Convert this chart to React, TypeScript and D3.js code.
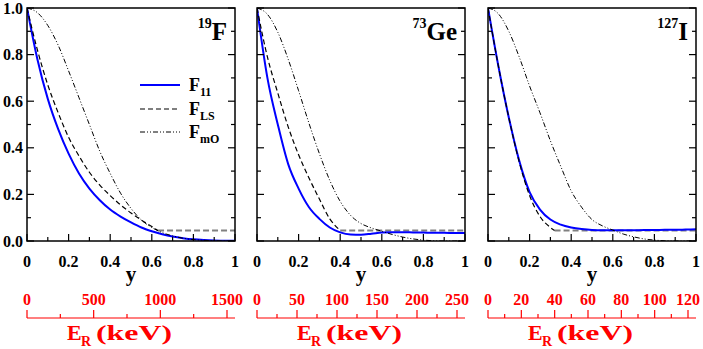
import React from 'react';
import * as d3 from 'd3';

// y grid shared by the full curves
const uGrid = [0, 0.05, 0.1, 0.15, 0.2, 0.25, 0.3, 0.35, 0.4, 0.45, 0.5, 0.55, 0.6, 0.65, 0.7, 0.75, 0.8, 0.85, 0.9, 0.95, 1];

// 19F
const f11F = [1, 0.78, 0.61, 0.48, 0.375, 0.29, 0.225, 0.175, 0.135, 0.105, 0.08, 0.058, 0.042, 0.029, 0.019, 0.012, 0.007, 0.004, 0.002, 0.001, 0.001];
const lsUF = [0, 0.05, 0.1, 0.15, 0.2, 0.25, 0.3, 0.35, 0.4, 0.45, 0.5, 0.55, 0.6, 0.63];
const lsF = [1, 0.82, 0.67, 0.55, 0.445, 0.365, 0.295, 0.24, 0.195, 0.155, 0.12, 0.09, 0.062, 0.045];
const mOF = [1, 0.98, 0.925, 0.84, 0.73, 0.615, 0.5, 0.385, 0.29, 0.205, 0.14, 0.09, 0.058, 0.036, 0.022, 0.012, 0.006, 0.003, 0.001, 0, 0];

// 73Ge
const f11Ge = [1, 0.7, 0.5, 0.33, 0.225, 0.145, 0.095, 0.058, 0.037, 0.028, 0.027, 0.031, 0.036, 0.038, 0.038, 0.037, 0.036, 0.035, 0.035, 0.034, 0.034];
const lsUGe = [0, 0.05, 0.1, 0.15, 0.2, 0.25, 0.3, 0.35, 0.4];
const lsGe = [1, 0.79, 0.635, 0.49, 0.37, 0.27, 0.18, 0.095, 0.045];
const mOGe = [1, 0.973, 0.896, 0.78, 0.645, 0.505, 0.375, 0.26, 0.17, 0.11, 0.075, 0.056, 0.042, 0.028, 0.017, 0.009, 0.004, 0.001, 0, 0, 0];

// 127I
const f11I = [1, 0.75, 0.53, 0.345, 0.21, 0.135, 0.092, 0.07, 0.058, 0.051, 0.047, 0.046, 0.046, 0.046, 0.046, 0.047, 0.047, 0.048, 0.048, 0.049, 0.05];
const lsUI = [0, 0.05, 0.1, 0.15, 0.2, 0.25, 0.3, 0.32];
const lsI = [1, 0.75, 0.53, 0.34, 0.195, 0.105, 0.058, 0.045];
const mOI = [1, 0.975, 0.9, 0.79, 0.665, 0.55, 0.43, 0.32, 0.215, 0.145, 0.092, 0.065, 0.047, 0.03, 0.018, 0.009, 0.004, 0.001, 0, 0, 0];

const floorValue = 0.045;

const yTicks = [0, 0.2, 0.4, 0.6, 0.8, 1];
const yTickLabels = ['0.0', '0.2', '0.4', '0.6', '0.8', '1.0'];
const yMinor = [0.1, 0.3, 0.5, 0.7, 0.9];
const xTicks = [0, 0.2, 0.4, 0.6, 0.8, 1];
const xTickLabels = ['0', '0.2', '0.4', '0.6', '0.8', '1'];
const xMinor = [0.1, 0.3, 0.5, 0.7, 0.9];

const erMaxF = 1560;
const erTicksF = [0, 500, 1000, 1500];
const erMinorF = [250, 750, 1250];
const erMaxGe = 260;
const erTicksGe = [0, 50, 100, 150, 200, 250];
const erMinorGe = [25, 75, 125, 175, 225];
const erMaxI = 124.8;
const erTicksI = [0, 20, 40, 60, 80, 100, 120];
const erMinorI = [10, 30, 50, 70, 90, 110];

const panels = [
  { mass: '19', sym: 'F', left: 27, f11: f11F, lsU: lsUF, ls: lsF, mO: mOF, erMax: erMaxF, erTicks: erTicksF, erMinor: erMinorF },
  { mass: '73', sym: 'Ge', left: 257, f11: f11Ge, lsU: lsUGe, ls: lsGe, mO: mOGe, erMax: erMaxGe, erTicks: erTicksGe, erMinor: erMinorGe },
  { mass: '127', sym: 'I', left: 488, f11: f11I, lsU: lsUI, ls: lsI, mO: mOI, erMax: erMaxI, erTicks: erTicksI, erMinor: erMinorI },
];

const W = 208;
const TOP = 8;
const BOTTOM = 241;
const FONT = "'Liberation Serif', 'Times New Roman', Times, 'DejaVu Serif', serif";
const RED = '#ff0000';
const BLUE = '#0000ff';

const Panel = ({ p, first }: { p: any; first: boolean }) => {
  const x = d3.scaleLinear().domain([0, 1]).range([p.left, p.left + W]);
  const y = d3.scaleLinear().domain([0, 1]).range([BOTTOM, TOP]);
  const er = d3.scaleLinear().domain([0, p.erMax]).range([p.left, p.left + W]);
  const line = d3.line<[number, number]>().x(d => x(d[0])).y(d => y(d[1])).curve(d3.curveMonotoneX);
  const blue = line(uGrid.map((u, i) => [u, p.f11[i]]));
  const ls = line(p.lsU.map((u: number, i: number) => [u, p.ls[i]]));
  const mO = line(uGrid.map((u, i) => [u, p.mO[i]]));
  const cut = p.lsU[p.lsU.length - 1];
  const axisY = 318;
  const clipId = 'clip' + p.sym;
  return (
    <g>
      <clipPath id={clipId}>
        <rect x={p.left} y={TOP} width={W} height={BOTTOM - TOP} />
      </clipPath>
      <g clipPath={`url(#${clipId})`}>
        <line x1={x(cut)} x2={x(1)} y1={y(floorValue)} y2={y(floorValue)} stroke="#808080" strokeWidth={2} strokeDasharray="6,3" />
        <path d={blue || ''} fill="none" stroke={BLUE} strokeWidth={2} />
        <path d={ls || ''} fill="none" stroke="#000" strokeWidth={1.2} strokeDasharray="5,3" />
        <path d={mO || ''} fill="none" stroke="#000" strokeWidth={1} strokeDasharray="5,2,1,2,1,2" />
      </g>
      {/* ticks */}
      {yTicks.map(t => (
        <g key={'y' + t}>
          <line x1={x(0)} x2={x(0) + 7} y1={y(t)} y2={y(t)} stroke="#000" strokeWidth={1.2} />
          <line x1={x(1)} x2={x(1) - 7} y1={y(t)} y2={y(t)} stroke="#000" strokeWidth={1.2} />
        </g>
      ))}
      {yMinor.map(t => (
        <g key={'ym' + t}>
          <line x1={x(0)} x2={x(0) + 4} y1={y(t)} y2={y(t)} stroke="#000" strokeWidth={1.2} />
          <line x1={x(1)} x2={x(1) - 4} y1={y(t)} y2={y(t)} stroke="#000" strokeWidth={1.2} />
        </g>
      ))}
      {xTicks.map(t => (
        <line key={'x' + t} x1={x(t)} x2={x(t)} y1={BOTTOM} y2={BOTTOM - 7} stroke="#000" strokeWidth={1.2} />
      ))}
      {xMinor.map(t => (
        <line key={'xm' + t} x1={x(t)} x2={x(t)} y1={BOTTOM} y2={BOTTOM - 4} stroke="#000" strokeWidth={1.2} />
      ))}
      <rect x={p.left} y={TOP} width={W} height={BOTTOM - TOP} fill="none" stroke="#000" strokeWidth={1.5} />
      {/* tick labels */}
      {xTickLabels.map((lab, i) => (
        <text key={'xl' + lab} x={x(xTicks[i])} y={266.5} textAnchor="middle" fontSize={16} fontWeight="bold" fontFamily={FONT}>{lab}</text>
      ))}
      {first && yTickLabels.map((lab, i) => (
        <text key={'yl' + lab} x={p.left - 4} y={y(yTicks[i]) + 5.5} textAnchor="end" fontSize={16} fontWeight="bold" fontFamily={FONT}>{lab}</text>
      ))}
      <text x={x(0.5)} y={281} textAnchor="middle" fontSize={21} fontWeight="bold" fontFamily={FONT}>y</text>
      {/* nucleus label */}
      <text x={p.left + W - 8} y={40} textAnchor="end" fontWeight="bold" fontFamily={FONT}>
        <tspan fontSize={14} dy={-12}>{p.mass}</tspan>
        <tspan fontSize={25} dy={12}>{p.sym}</tspan>
      </text>
      {/* recoil energy axis */}
      <line x1={p.left} x2={p.left + W} y1={axisY} y2={axisY} stroke={RED} strokeWidth={1.2} />
      {p.erTicks.map((t: number) => (
        <g key={'e' + t}>
          <line x1={er(t)} x2={er(t)} y1={axisY} y2={axisY - 8} stroke={RED} strokeWidth={1.2} />
          <text x={er(t)} y={305} textAnchor="middle" fontSize={16} fontWeight="bold" fontFamily={FONT} fill={RED}>{t}</text>
        </g>
      ))}
      {p.erMinor.map((t: number) => (
        <line key={'em' + t} x1={er(t)} x2={er(t)} y1={axisY} y2={axisY - 4} stroke={RED} strokeWidth={1.2} />
      ))}
      <text x={p.left + 40} y={340} fontWeight="bold" fontFamily={FONT} fill={RED} fontSize={22}>E</text>
      <text x={p.left + 54} y={346} fontWeight="bold" fontFamily={FONT} fill={RED} fontSize={14}>R</text>
      <text x={p.left + 69} y={340} fontWeight="bold" fontFamily={FONT} fill={RED} fontSize={22}
        textLength={76} lengthAdjust="spacingAndGlyphs">(keV)</text>
    </g>
  );
};

const Legend = () => {
  const rows = [
    { sub: '11', stroke: BLUE, width: 2, dash: undefined, y: 85 },
    { sub: 'LS', stroke: '#000', width: 1.2, dash: '5,3', y: 109 },
    { sub: 'mO', stroke: '#000', width: 1, dash: '5,2,1,2,1,2', y: 132 },
  ];
  return (
    <g>
      {rows.map(r => (
        <g key={r.sub}>
          <line x1={140} x2={180} y1={r.y} y2={r.y} stroke={r.stroke} strokeWidth={r.width} strokeDasharray={r.dash} />
          <text x={189} y={r.y + 6} fontWeight="bold" fontFamily={FONT}>
            <tspan fontSize={18}>F</tspan>
            <tspan fontSize={12} dy={5}>{r.sub}</tspan>
          </text>
        </g>
      ))}
    </g>
  );
};

export default function App() {
  return (
    <svg width={703} height={349} style={{ position: 'absolute', left: 0, top: 0, background: '#fff' }}>
      {panels.map((p, i) => (
        <Panel key={p.sym} p={p} first={i === 0} />
      ))}
      <Legend />
    </svg>
  );
}
